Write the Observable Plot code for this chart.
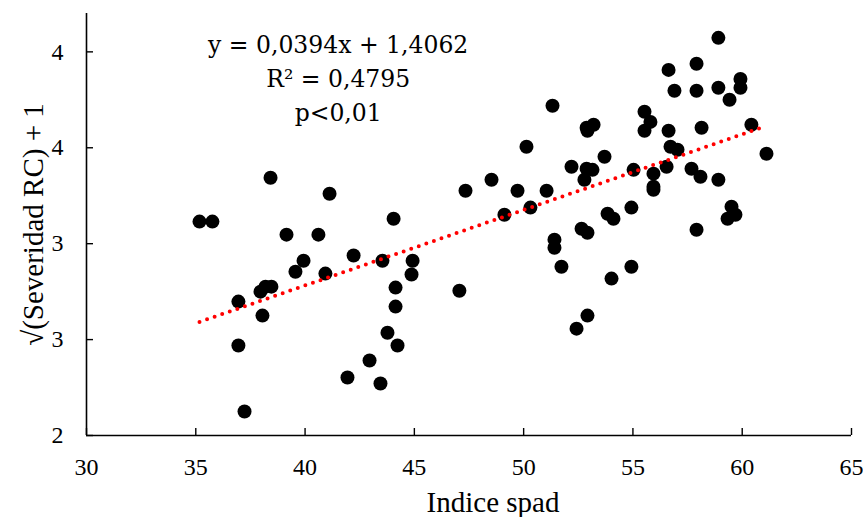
<!DOCTYPE html>
<html><head><meta charset="utf-8">
<script src="https://cdn.jsdelivr.net/npm/d3@7"></script>
<script src="https://cdn.jsdelivr.net/npm/@observablehq/plot@0.6"></script>
<style>body{margin:0;background:#fff}</style>
</head><body><div id="chart"></div>
<script>
// Índice SPAD (x) and √(Severidad RC) + 1 (y)
const spad = [35.17,35.76,38.42,41.12,39.15,40.61,39.93,39.56,40.93,42.22,43.54,44.05,44.92,44.87,38.19,38.46,37.96,36.95,38.05,36.95,37.23,44.14,44.14,43.77,44.23,42.95,41.94,43.45,
  47.06,47.34,48.53,49.12,49.72,50.13,50.31,51.05,51.32,51.41,51.41,51.73,52.42,52.92,52.19,52.88,53.15,52.78,52.88,53.20,52.92,53.70,53.84,54.11,52.65,52.92,54.02,54.93,54.93,55.03,
  55.53,55.80,55.53,56.63,56.63,57.91,56.90,57.91,58.91,58.91,59.92,59.92,59.42,58.14,60.42,56.72,57.04,56.54,55.94,55.94,55.94,57.68,58.09,58.91,61.11,59.51,59.69,59.33,57.91];
const severity = [3.315,3.315,3.544,3.460,3.247,3.247,3.111,3.054,3.044,3.138,3.111,3.330,3.111,3.039,2.976,2.976,2.950,2.898,2.825,2.669,2.325,2.971,2.872,2.736,2.669,2.591,2.502,2.471,
  2.955,3.476,3.533,3.351,3.476,3.705,3.388,3.476,3.919,3.221,3.179,3.080,2.757,2.825,3.601,3.591,3.585,3.533,3.804,3.820,3.789,3.653,3.356,3.330,3.278,3.257,3.018,3.080,3.388,3.585,
  3.888,3.835,3.789,3.789,4.106,4.138,3.997,3.997,4.273,4.013,4.059,4.013,3.950,3.804,3.820,3.705,3.690,3.601,3.565,3.497,3.481,3.591,3.549,3.533,3.669,3.393,3.351,3.330,3.273];
const slope = 0.0394, intercept = 1.4062;
const eqLines = ["y = 0,0394x + 1,4062", "R² = 0,4795", "p<0,01"];
const xTicks = [30, 35, 40, 45, 50, 55, 60, 65];
const yTicks = [2.2, 2.7, 3.2, 3.7, 4.2];
const yTickLabels = ["2", "3", "3", "4", "4"];
const xDomain = [30, 65];
const yDomain = [2.2, 4.4];
const xLabel = "Indice spad";
const yLabel = "√(Severidad RC) + 1";

const points = spad.map((x, i) => ({x, y: severity[i]}));
const trend = d3.extent(spad).map(x => ({x, y: slope * x + intercept}));

const W = 863, H = 517, mL = 86, mR = 12, mT = 13, mB = 82;
const serif = "Liberation Serif";

const chart = Plot.plot({
  width: W, height: H,
  marginLeft: mL, marginRight: mR, marginTop: mT, marginBottom: mB,
  style: {fontFamily: serif, fontSize: "24px", color: "#000", background: "#fff", overflow: "visible"},
  x: {domain: xDomain},
  y: {domain: yDomain},
  marks: [
    Plot.axisX({ticks: xTicks, tickSize: 0, tickPadding: 22, fontSize: 24, fontFamily: serif, label: null}),
    Plot.axisY({ticks: yTicks, tickSize: 0, tickPadding: 23, fontSize: 24, fontFamily: serif, label: null,
      tickFormat: d => yTickLabels[yTicks.indexOf(d)]}),
    Plot.ruleX([xDomain[0]], {stroke: "#000", strokeWidth: 1.6}),
    Plot.ruleY([yDomain[0]], {stroke: "#000", strokeWidth: 1.6}),
    Plot.tickY(yTicks, {y: d => d, stroke: "#000", strokeWidth: 1.4, insetRight: W - mL - mR - 7}),
    Plot.tickX(xTicks, {x: d => d, stroke: "#000", strokeWidth: 1.4, insetTop: H - mT - mB - 7}),
    Plot.dot(points, {x: "x", y: "y", r: 7, fill: "#000"}),
    Plot.line(trend, {x: "x", y: "y", stroke: "#ff0000", strokeWidth: 4, strokeDasharray: "0 8", strokeLinecap: "round"}),
    Plot.text([eqLines.join("\n")], {frameAnchor: "top-left", dx: 251.7, dy: 15.3, textAnchor: "middle",
      lineAnchor: "top", lineHeight: 34 / 23.5, fontSize: 23.5, fontFamily: "DejaVu Serif", fill: "#000"}),
    Plot.text([xLabel], {frameAnchor: "bottom", textAnchor: "middle", lineAnchor: "bottom", dx: 24, dy: 76, fontSize: 29, fontFamily: serif, fill: "#000"}),
    Plot.text([yLabel], {frameAnchor: "left", textAnchor: "middle", rotate: -90, lineAnchor: "bottom", dx: -44, fontSize: 29, fontFamily: serif, fill: "#000"})
  ]
});
document.getElementById("chart").appendChild(chart);
</script>
</body></html>
